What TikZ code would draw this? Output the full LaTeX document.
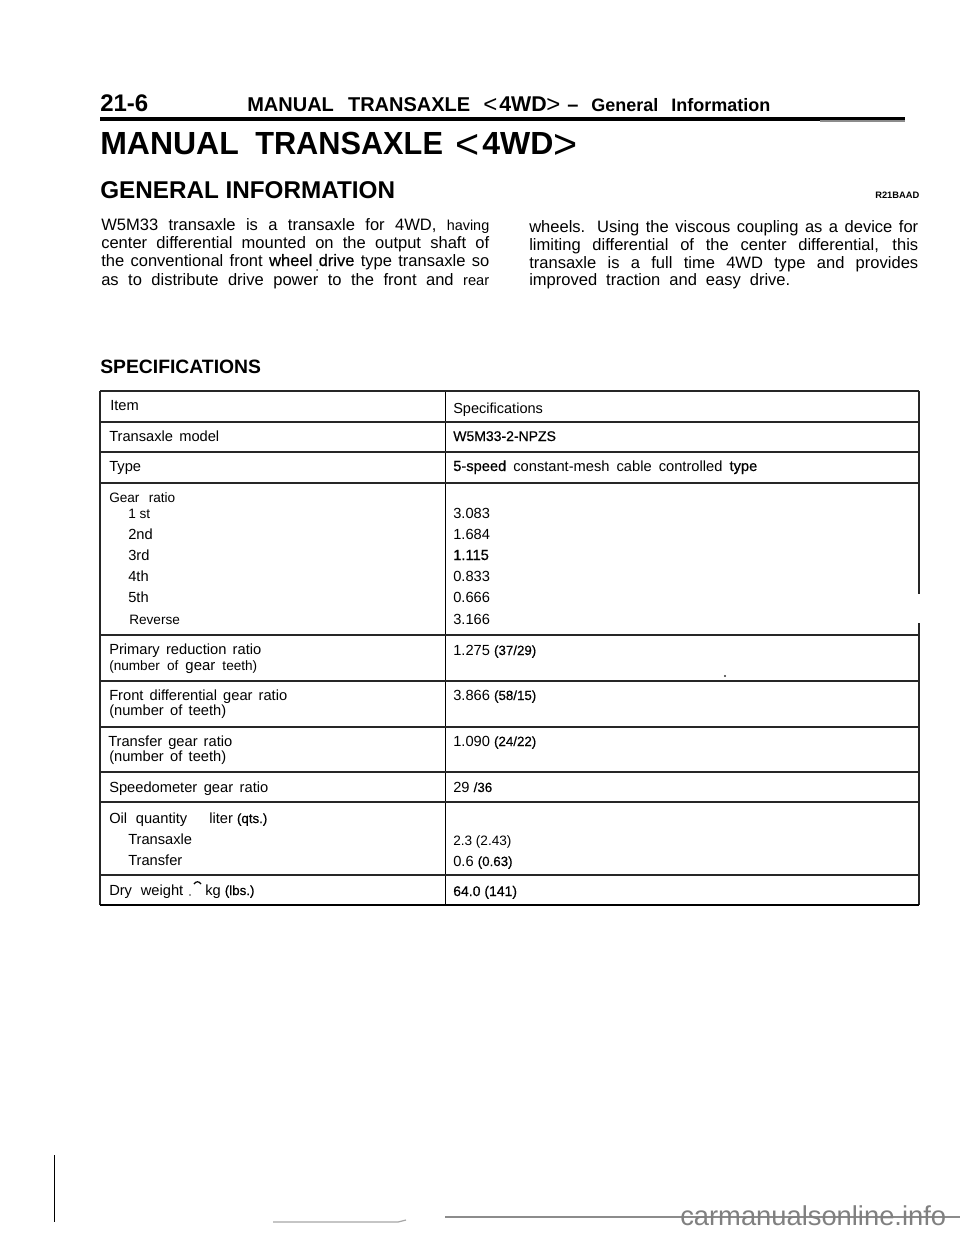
\documentclass[tikz,border=0pt]{standalone}
\usepackage{fontspec}
\setmainfont{Liberation Sans}
\newfontfamily\darkfont[FakeBold=0.5]{Liberation Sans}
\usetikzlibrary{positioning}
\newcommand{\fitline}[2]{\hbox to \dimexpr #1pt*3/4\relax{#2}}
\newcommand{\smallbits}[1]{{\darkfont\fontsize{10pt}{11pt}\selectfont #1}}
\tikzset{
  rowtext/.style={anchor=base west, inner sep=0pt, font=\fontsize{11pt}{13pt}\selectfont},
  smalltext/.style={anchor=base west, inner sep=0pt, font=\fontsize{10.2pt}{12pt}\selectfont},
  bodytext/.style={anchor=base west, inner sep=0pt, font=\fontsize{12.4pt}{14pt}\selectfont},
  headtext/.style={anchor=base west, inner sep=0pt, font=\fontsize{15pt}{17pt}\selectfont\bfseries},
  headsign/.style={anchor=base west, inner sep=0pt, font=\fontsize{18pt}{20pt}\selectfont},
  titletext/.style={anchor=base west, inner sep=0pt, font=\fontsize{24pt}{28pt}\selectfont\bfseries},
  titlesign/.style={anchor=base west, inner sep=0pt, font=\fontsize{31pt}{33pt}\selectfont},
  tablerule/.style={line width=1.4pt, color=black!85},
  speck/.style={fill=black!80},
}
\begin{document}
\begin{tikzpicture}[x=0.75pt,y=-0.75pt]
\useasboundingbox (0,0) rectangle (960,1234);
% Kopfzeile
\node at (100,112) (pagenr) [headtext, font=\fontsize{18pt}{20pt}\selectfont\bfseries] {21-6};
\node at (247,112) (headline) [headtext] {\fitline{223}{MANUAL TRANSAXLE}};
\node at (483,113) (headless) [headsign] {<};
\node at (499,112) (headwd) [headtext, font=\fontsize{16pt}{18pt}\selectfont\bfseries] {4WD};
\node at (546,113) (headmore) [headsign] {>};
\node at (567,112) (headdash) [headtext] {--};
\node at (591,112) (headsub) [headtext, font=\fontsize{13.5pt}{15pt}\selectfont\bfseries] {\fitline{179}{General Information}};
\coordinate (ruleL) at (100,119);
\coordinate (ruleR) at (905,119);
\draw [line width=2.5pt] (ruleL) -- (ruleR);
\coordinate (greyL) at (820,121);
\coordinate (greyR) at (905,121);
\draw [line width=1pt, color=black!45] (greyL) -- (greyR);
% Titel
\node at (100,155) (title) [titletext] {MANUAL};
\node at (255,155) (titleB) [titletext] {\scalebox{0.96}[1]{TRANSAXLE}};
\node at (455,159) (titleless) [titlesign] {<};
\node at (482,155) (titlewd) [titletext] {4WD};
\node at (553,159) (titlemore) [titlesign] {>};
\node at (100,199) (general) [anchor=base west, inner sep=0pt, font=\fontsize{18.2pt}{22pt}\selectfont\bfseries] {GENERAL INFORMATION};
\node at (875,199) (code) [anchor=base west, inner sep=0pt, font=\fontsize{7pt}{8pt}\selectfont\bfseries] {R21BAAD};
% Linke Spalte
\node at (101,230) (leftA) [bodytext] {\fitline{388}{W5M33 transaxle is a transaxle for 4WD, {\fontsize{10.8pt}{12pt}\selectfont having}}};
\node at (101,248) (leftB) [bodytext] {\fitline{388}{center differential mounted on the output shaft of}};
\node at (101,266) (leftC) [bodytext] {\fitline{388}{the conventional front {\darkfont wheel drive} type transaxle so}};
\node at (101,285) (leftD) [bodytext] {\fitline{388}{as to distribute drive power to the front and {\fontsize{11pt}{12pt}\selectfont rear}}};
% Rechte Spalte
\node at (529,232) (rightA) [bodytext] {\fitline{389}{wheels. Using the viscous coupling as a device for}};
\node at (529,250) (rightB) [bodytext] {\fitline{389}{limiting differential of the center differential, this}};
\node at (529,268) (rightC) [bodytext] {\fitline{389}{transaxle is a full time 4WD type and provides}};
\node at (529,285) (rightD) [bodytext] {\fitline{261}{improved traction and easy drive.}};
\node at (100,373) (spec) [headtext, font=\fontsize{14.5pt}{17pt}\selectfont\bfseries] {SPECIFICATIONS};
% Tabelle
\draw [tablerule] (100,391) -- (100,905);
\draw [line width=0.6pt] (445,391) -- (445,905);
\draw [tablerule] (919,391) -- (919,594);
\draw [tablerule] (919,623) -- (919,905);
\foreach \ypos in {391,422,452,483,635,681,727,772,802,875}
  \draw [tablerule] (100,\ypos) -- (919,\ypos);
\draw [line width=2pt] (100,905) -- (919,905);
% Linke Tabellenspalte
\node at (110,410) (item) [rowtext] {Item};
\node at (109,441) (model) [rowtext] {\fitline{110}{Transaxle model}};
\node at (109,471) (type) [rowtext] {Type};
\node at (109,502) (gear) [smalltext] {\fitline{66}{Gear ratio}};
\node at (128,518) (first) [smalltext] {1 st};
\node at (128,539) (second) [rowtext] {2nd};
\node at (128,560) (third) [rowtext] {3rd};
\node at (128,581) (fourth) [rowtext] {4th};
\node at (128,602) (fifth) [rowtext] {5th};
\node at (129,624) (reverse) [smalltext] {Reverse};
\node at (109,654) (primary) [rowtext] {\fitline{152}{Primary reduction ratio}};
\node at (109,670) (teethA) [smalltext] {\fitline{148}{(number of {\fontsize{11.2pt}{13pt}\selectfont gear} teeth)}};
\node at (109,700) (front) [rowtext] {\fitline{178}{Front differential gear ratio}};
\node at (109,715) (teethB) [rowtext] {\fitline{117}{(number of teeth)}};
\node at (108,746) (transfergear) [rowtext] {\fitline{124}{Transfer gear ratio}};
\node at (109,761) (teethC) [rowtext] {\fitline{117}{(number of teeth)}};
\node at (109,792) (speedo) [rowtext] {\fitline{159}{Speedometer gear ratio}};
\node at (109,823) (oil) [rowtext] {\fitline{78}{Oil quantity}};
\node at (209,823) (liter) [rowtext] {liter \smallbits{(qts.)}};
\node at (128,844) (transaxle) [rowtext] {Transaxle};
\node at (128,865) (transfer) [rowtext] {Transfer};
\node at (109,895) (dry) [rowtext] {\fitline{74}{Dry weight}};
\node at (205,895) (kg) [rowtext] {kg \smallbits{(lbs.)}};
% Rechte Tabellenspalte
\node at (453,413) (specs) [smalltext, font=\fontsize{10.9pt}{13pt}\selectfont] {Specifications};
\node at (453,441) (modelval) [rowtext, font=\fontsize{10.5pt}{13pt}\selectfont\darkfont] {W5M33-2-NPZS};
\node at (453,471) (typeval) [rowtext] {\fitline{304}{{\darkfont 5-speed} constant-mesh cable controlled {\darkfont type}}};
\node at (453,518) (val1) [rowtext] {3.083};
\node at (453,539) (val2) [rowtext] {1.684};
\node at (453,560) (val3) [rowtext, font=\fontsize{11pt}{13pt}\selectfont\darkfont] {1.115};
\node at (453,581) (val4) [rowtext] {0.833};
\node at (453,602) (val5) [rowtext] {0.666};
\node at (453,624) (val6) [rowtext] {3.166};
\node at (453,655) (primaryval) [rowtext] {1.275 \smallbits{(37/29)}};
\node at (453,700) (frontval) [rowtext] {3.866 \smallbits{(58/15)}};
\node at (453,746) (transferval) [rowtext] {1.090 \smallbits{(24/22)}};
\node at (453,792) (speedoval) [rowtext] {29 \smallbits{/36}};
\node at (453,845) (transaxleval) [smalltext] {2.3 (2.43)};
\node at (453,866) (transferval2) [rowtext] {0.6 \smallbits{(0.63)}};
\node at (453,896) (dryval) [rowtext, font=\fontsize{10.5pt}{13pt}\selectfont\darkfont] {64.0 (141)};
% Flecken vom Scan
\fill [speck] (317,270) circle (1);
\fill [speck] (725,676) circle (1.2);
\fill [speck] (190,895) circle (0.8);
\draw [line width=0.9pt] (194,884) .. controls (196,881) and (199,881) .. (201,884);
% Fusszeile
\draw [line width=0.6pt] (54,1155) -- (54,1222);
\draw [line width=0.9pt, color=black!35] (273,1222) -- (398,1222) -- (406,1220);
\draw [line width=0.9pt, color=black!45] (445,1217) -- (960,1217);
\node at (680,1225) (site) [anchor=base west, inner sep=0pt, color=black!50, font=\fontsize{20.5pt}{22pt}\selectfont] {carmanualsonline.info};
\end{tikzpicture}
\end{document}
